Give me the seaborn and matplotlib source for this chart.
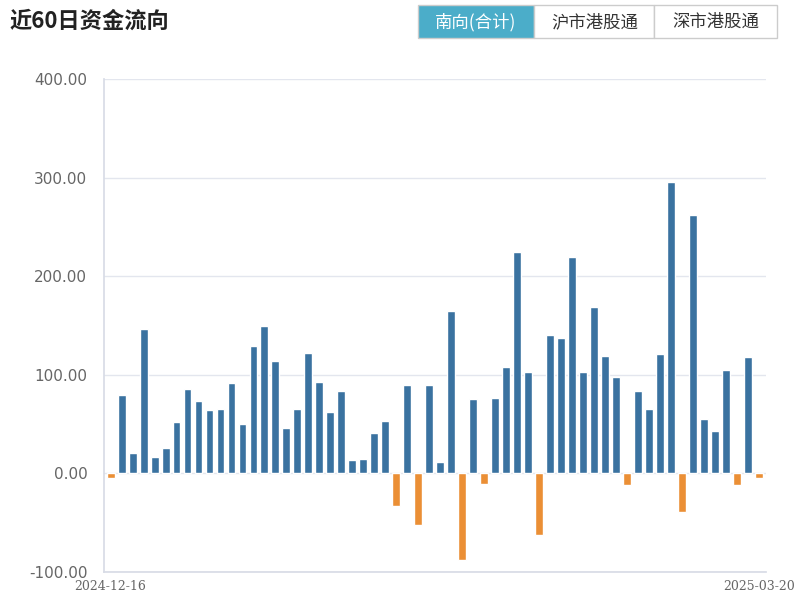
import matplotlib
matplotlib.use("Agg")
import matplotlib.pyplot as plt
import seaborn as sns
import pandas as pd
from matplotlib.patches import FancyBboxPatch

values = [-5, 79, 20, 146, 16, 26, 52, 85, 73, 64, 65, 92, 50, 129, 149, 114, 46, 65, 122, 93,
          62, 83, 13, 14, 41, 53, -33, 90, -53, 90, 11, 165, -88, 75, -11, 76, 108, 225, 103, -63,
          140, 137, 220, 103, 169, 119, 98, -12, 83, 65, 121, 296, -40, 262, 55, 43, 105, -12, 118, -5]
tick_labels = ["2024-12-16", "2025-03-20"]
yticks = [-100, 0, 100, 200, 300, 400]
buttons = ["南向(合计)", "沪市港股通", "深市港股通"]

sns.set_theme(style="white")
plt.rcParams['font.family'] = ['Noto Sans CJK SC', 'DejaVu Sans']

df = pd.DataFrame({"i": range(len(values)), "v": values})
df["sign"] = ["pos" if v >= 0 else "neg" for v in values]

fig = plt.figure(figsize=(8, 6.1), dpi=100)
ax = fig.add_axes([0.13, 0.063, 0.827, 0.807])
sns.barplot(data=df, x="i", y="v", hue="sign", palette={"pos": "#3a72a0", "neg": "#eb8f35"},
            dodge=False, width=0.72, saturation=1, legend=False, ax=ax)
for p in ax.patches:
    w = p.get_width()
    if w < 0.6:
        p.set_x(p.get_x() + w / 2 - 0.36)
        p.set_width(0.72)
ax.set_ylim(-100, 400)
ax.set_xlim(-0.6, len(values) - 0.4)
ax.set_yticks(yticks)
ax.set_yticklabels([f"{y:.2f}" for y in yticks], color="#666666", fontsize=11, family="DejaVu Sans")
ax.set_xticks([0, len(values) - 1])
ax.set_xticklabels(tick_labels, color="#666666", fontsize=9, family="DejaVu Serif")
ax.grid(axis="y", color="#e3e6ee", lw=1)
ax.set_axisbelow(True)
for s in ["top", "right"]:
    ax.spines[s].set_visible(False)
ax.spines["left"].set_color("#d8dce6")
ax.spines["bottom"].set_color("#d8dce6")
ax.tick_params(axis="x", length=5, color="#d8dce6", pad=1)
ax.tick_params(axis="y", length=0, pad=12)
ax.set_xlabel("")
ax.set_ylabel("")

fig.text(0.012, 0.965, "近60日资金流向", fontsize=16, fontweight="bold", va="center", color="#222222")
xs = [(0.522, 0.145), (0.668, 0.150), (0.818, 0.153)]
for (x0, w), lab, k in zip(xs, buttons, range(3)):
    active = k == 0
    r = FancyBboxPatch((x0, 0.937), w, 0.055, boxstyle="square,pad=0", transform=fig.transFigure,
                       facecolor="#4badc9" if active else "white", edgecolor="#cccccc", lw=1)
    fig.patches.append(r)
    fig.text(x0 + w / 2, 0.964, lab, ha="center", va="center", fontsize=12.5,
             color="white" if active else "#333333")
fig.savefig("out.png", dpi=100)
